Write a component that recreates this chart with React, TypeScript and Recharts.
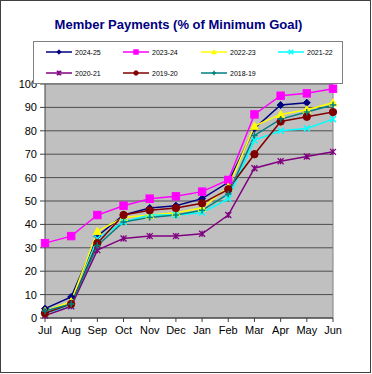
import React from 'react';
import { LineChart, Line, XAxis, YAxis, CartesianGrid, ReferenceLine } from 'recharts';

const months = ['Jul', 'Aug', 'Sep', 'Oct', 'Nov', 'Dec', 'Jan', 'Feb', 'Mar', 'Apr', 'May', 'Jun'];
const yTicks = [0, 10, 20, 30, 40, 50, 60, 70, 80, 90, 100];

const fy2024_25 = [4, 9, 35, 44, 47, 48, 51, 58, 81, 91, 92, null];
const fy2023_24 = [32, 35, 44, 48, 51, 52, 54, 59, 87, 95, 96, 98];
const fy2022_23 = [3, 7, 37, 43, 44, 45, 47, 56, 82, 87, 89, 92];
const fy2021_22 = [2, 5, 34, 41, 44, 44, 45, 51, 76, 80, 81, 85];
const fy2020_21 = [1, 5, 29, 34, 35, 35, 36, 44, 64, 67, 69, 71];
const fy2019_20 = [2, 6, 32, 44, 46, 47, 49, 55, 70, 84, 86, 88];
const fy2018_19 = [3, 6, 31, 41, 43, 44, 46, 53, 78, 85, 88, 91];

type Shape = 'diamond' | 'square' | 'triangle' | 'x' | 'star' | 'circle' | 'plus';

const series: { name: string; values: (number | null)[]; color: string; shape: Shape; r: number }[] = [
  { name: '2024-25', values: fy2024_25, color: '#000080', shape: 'diamond', r: 3.5 },
  { name: '2023-24', values: fy2023_24, color: '#FF00FF', shape: 'square', r: 3.7 },
  { name: '2022-23', values: fy2022_23, color: '#FFFF00', shape: 'triangle', r: 4 },
  { name: '2021-22', values: fy2021_22, color: '#00FFFF', shape: 'x', r: 3 },
  { name: '2020-21', values: fy2020_21, color: '#800080', shape: 'star', r: 3 },
  { name: '2019-20', values: fy2019_20, color: '#800000', shape: 'circle', r: 3.7 },
  { name: '2018-19', values: fy2018_19, color: '#008080', shape: 'plus', r: 3.2 },
];

const data = months.map((m, i) => {
  const row: Record<string, string | number | null> = { month: m };
  series.forEach((s) => (row[s.name] = s.values[i]));
  return row;
});

const FONT = '"Liberation Sans", Arial, sans-serif';

function Marker({ cx, cy, color, shape, r }: { cx: number; cy: number; color: string; shape: Shape; r: number }) {
  switch (shape) {
    case 'diamond':
      return <polygon points={`${cx},${cy - r} ${cx + r},${cy} ${cx},${cy + r} ${cx - r},${cy}`} fill={color} stroke={color} />;
    case 'square':
      return <rect x={cx - r} y={cy - r} width={2 * r} height={2 * r} fill={color} stroke={color} />;
    case 'triangle':
      return <polygon points={`${cx},${cy - r} ${cx + r},${cy + r * 0.8} ${cx - r},${cy + r * 0.8}`} fill={color} stroke={color} />;
    case 'circle':
      return <circle cx={cx} cy={cy} r={r} fill={color} stroke={color} />;
    case 'x':
      return (
        <path d={`M${cx - r},${cy - r}L${cx + r},${cy + r}M${cx - r},${cy + r}L${cx + r},${cy - r}`} stroke={color} strokeWidth={1.5} />
      );
    case 'plus':
      return <path d={`M${cx - r},${cy}L${cx + r},${cy}M${cx},${cy - r}L${cx},${cy + r}`} stroke={color} strokeWidth={1.5} />;
    case 'star':
      return (
        <path
          d={`M${cx - r},${cy - r}L${cx + r},${cy + r}M${cx - r},${cy + r}L${cx + r},${cy - r}M${cx},${cy - r}L${cx},${cy + r}`}
          stroke={color}
          strokeWidth={1.3}
        />
      );
  }
  return null;
}

function ChartLegend() {
  const cols = [13, 90, 168, 245];
  const rows = [11, 32];
  return (
    <svg width={310} height={43} style={{ position: 'absolute', left: 33, top: 41 }}>
      <rect x={0.5} y={0.5} width={309} height={42} fill="#fff" stroke="#808080" />
      {series.map((s, i) => {
        const x = cols[i % 4];
        const y = rows[Math.floor(i / 4)];
        return (
          <g key={s.name}>
            <line x1={x} x2={x + 26} y1={y} y2={y} stroke={s.color} strokeWidth={1.5} />
            <Marker cx={x + 13} cy={y} color={s.color} shape={s.shape} r={2.2} />
            <text x={x + 29} y={y + 2.5} fontSize={7} fontFamily={FONT} fill="#000">
              {s.name}
            </text>
          </g>
        );
      })}
    </svg>
  );
}

export default function App() {
  return (
    <div style={{ position: 'relative', width: 372, height: 374, background: '#fff', fontFamily: FONT }}>
      <style>{'body{margin:0}'}</style>
      <LineChart width={372} height={374} data={data} margin={{ top: 84, right: 39, bottom: 26, left: 5 }}>
        <CartesianGrid vertical={false} stroke="#4d4d4d" fill="#C0C0C0" fillOpacity={1} />
        <XAxis
          dataKey="month"
          height={30}
          interval={0}
          tickSize={4}
          tickMargin={4}
          stroke="#404040"
          tick={{ fill: '#000', fontSize: 11, fontFamily: FONT }}
        />
        <YAxis
          width={40}
          domain={[0, 100]}
          ticks={yTicks}
          interval={0}
          tickSize={5}
          tickMargin={3}
          stroke="#404040"
          tick={{ fill: '#000', fontSize: 11, fontFamily: FONT }}
        />
        <ReferenceLine x="Jun" stroke="#808080" />
        {series.map((s) => (
          <Line
            key={s.name}
            dataKey={s.name}
            stroke={s.color}
            strokeWidth={1.5}
            isAnimationActive={false}
            activeDot={false}
            dot={(p: any) =>
              p.cx == null || p.cy == null || p.value == null ? (
                <g key={`${s.name}-${p.index}`} />
              ) : (
                <g key={`${s.name}-${p.index}`}>
                  <Marker cx={p.cx} cy={p.cy} color={s.color} shape={s.shape} r={s.r} />
                </g>
              )
            }
          />
        ))}
      </LineChart>
      <div
        style={{
          position: 'absolute',
          left: 0,
          width: 357,
          top: 17,
          height: 16,
          lineHeight: '16px',
          textAlign: 'center',
          fontSize: 13,
          fontWeight: 'bold',
          color: '#000080',
        }}
      >
        Member Payments (% of Minimum Goal)
      </div>
      <ChartLegend />
      <div
        style={{
          position: 'absolute',
          left: 0,
          top: 0,
          width: 371,
          height: 373,
          border: '1px solid #404040',
          boxSizing: 'border-box',
          pointerEvents: 'none',
        }}
      />
    </div>
  );
}
